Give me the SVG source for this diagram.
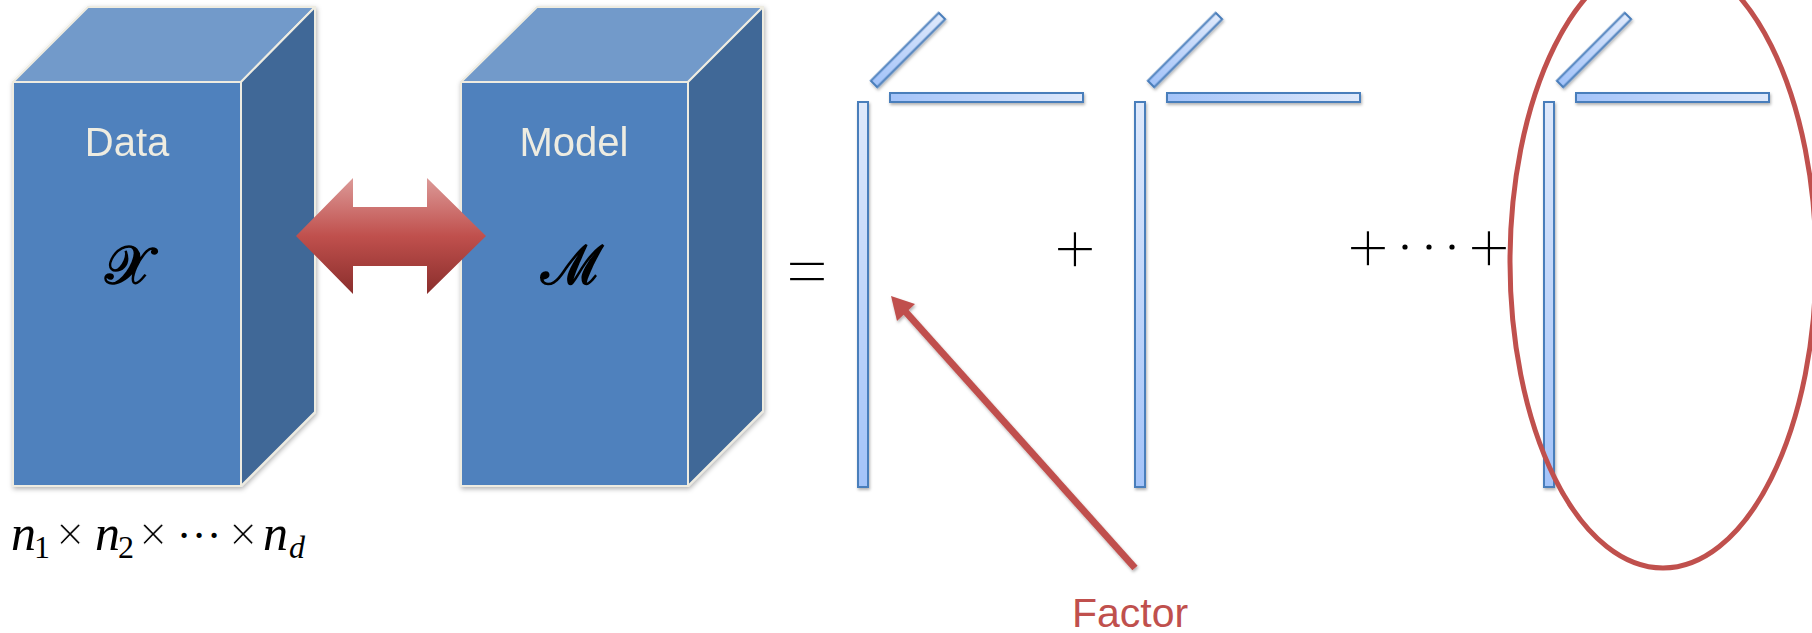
<svg xmlns="http://www.w3.org/2000/svg" width="1812" height="633" viewBox="0 0 1812 633">
  <style>
    .front { fill: #4f81bd; stroke: #eeece1; stroke-width: 2; stroke-linejoin: round; }
    .top { fill: #729aca; stroke: #eeece1; stroke-width: 2; stroke-linejoin: round; }
    .side { fill: #3f6797; stroke: #eeece1; stroke-width: 2; stroke-linejoin: round; }
    .cubelabel { font-family: "Liberation Sans", Arial, sans-serif; font-size: 40px; fill: #eeece1; text-anchor: middle; }
    .cal { font-family: "DejaVu Serif", "Liberation Serif", serif; font-size: 54px; fill: #000; stroke: #000; stroke-width: 1.6; text-anchor: middle; }
    .rod { stroke: #4a7ebb; stroke-width: 2; }
    .math { font-family: "Liberation Serif", "Times New Roman", serif; fill: #000; }
    .mi { font-style: italic; font-size: 50px; }
    .sub { font-size: 32px; }
    .op { font-size: 50px; text-anchor: middle; stroke: #fff; stroke-width: 0.8; }
    .dot { font-size: 44px; text-anchor: middle; }
    .big { font-size: 76px; text-anchor: middle; stroke: #fff; stroke-width: 1.6; }
    .factor { font-family: "Liberation Sans", Arial, sans-serif; font-size: 41px; fill: #c0504d; text-anchor: middle; }
  </style>
  <defs>
    <linearGradient id="gV" x1="0" y1="0" x2="0" y2="1">
      <stop offset="0" stop-color="#dfe9fb"/>
      <stop offset="1" stop-color="#a3c3f9"/>
    </linearGradient>
    <linearGradient id="gH" x1="0" y1="0" x2="1" y2="0">
      <stop offset="0" stop-color="#a3c3f9"/>
      <stop offset="1" stop-color="#dfe9fb"/>
    </linearGradient>
    <linearGradient id="gArrow" x1="0" y1="0" x2="0" y2="1">
      <stop offset="0" stop-color="#dc9a98"/>
      <stop offset="0.5" stop-color="#c0504d"/>
      <stop offset="1" stop-color="#8a2e2c"/>
    </linearGradient>
    <filter id="shadow" x="-20%" y="-20%" width="140%" height="140%">
      <feDropShadow dx="1" dy="2" stdDeviation="2.5" flood-color="#000" flood-opacity="0.3"/>
    </filter>
    <filter id="rshadow" x="-50%" y="-20%" width="200%" height="140%">
      <feDropShadow dx="1" dy="2" stdDeviation="1.5" flood-color="#000" flood-opacity="0.3"/>
    </filter>
    <g id="term">
      <rect class="rod" x="0" y="102" width="10" height="385" fill="url(#gV)"/>
      <rect class="rod" x="32" y="93" width="193" height="9" fill="url(#gH)"/>
      <rect class="rod" x="-48" y="-4.5" width="96" height="9" fill="url(#gH)" transform="translate(50 50) rotate(-45)"/>
    </g>
  </defs>
  <rect width="1812" height="633" fill="#ffffff"/>

  <g id="node-data" filter="url(#shadow)">
    <polygon class="top" points="13,82 88,7 315,7 241,82"/>
    <polygon class="side" points="241,82 315,7 315,412 241,486"/>
    <rect class="front" x="13" y="82" width="228" height="404"/>
    <text class="cubelabel" x="127" y="156">Data</text>
    <text class="cal" x="128" y="284">𝒳</text>
  </g>

  <g id="node-model" filter="url(#shadow)">
    <polygon class="top" points="461,82 537,7 763,7 688,82"/>
    <polygon class="side" points="688,82 763,7 763,411 688,486"/>
    <rect class="front" x="461" y="82" width="227" height="404"/>
    <text class="cubelabel" x="574" y="156">Model</text>
    <text class="cal" x="572" y="284">ℳ</text>
  </g>

  <g id="node-size-label" class="math">
    <text class="mi" x="11" y="550">n</text>
    <text class="sub" x="34" y="558">1</text>
    <text class="op" x="70" y="551">×</text>
    <text class="mi" x="95" y="550">n</text>
    <text class="sub" x="118" y="558">2</text>
    <text class="op" x="153" y="551">×</text>
    <text class="dot" x="184" y="550">·</text>
    <text class="dot" x="199" y="550">·</text>
    <text class="dot" x="214" y="550">·</text>
    <text class="op" x="243" y="551">×</text>
    <text class="mi" x="263" y="550">n</text>
    <text class="sub" x="289" y="558" font-style="italic">d</text>
  </g>

  <g id="node-equals" class="math">
    <text class="big" x="807" y="297">=</text>
  </g>

  <g id="node-term1" filter="url(#rshadow)">
    <use href="#term" transform="translate(858 0)"/>
  </g>
  <g id="node-plus1" class="math">
    <text class="big" x="1075" y="274">+</text>
  </g>
  <g id="node-term2" filter="url(#rshadow)">
    <use href="#term" transform="translate(1135 0)"/>
  </g>
  <g id="node-plus-dots" class="math">
    <text class="big" x="1368" y="273">+</text>
    <circle cx="1405" cy="247" r="2.6" fill="#000"/>
    <circle cx="1429" cy="247" r="2.6" fill="#000"/>
    <circle cx="1452" cy="247" r="2.6" fill="#000"/>
    <text class="big" x="1489" y="273">+</text>
  </g>
  <g id="node-term3" filter="url(#rshadow)">
    <use href="#term" transform="translate(1544 0)"/>
  </g>

  <g id="node-highlight">
    <ellipse cx="1663" cy="262" rx="153" ry="306" fill="none" stroke="#c0504d" stroke-width="5"/>
  </g>

  <g id="connectors">
    <polygon id="double-arrow" points="296,236 353,178 353,207 427,207 427,178 486,236 427,294 427,266 353,266 353,294" fill="url(#gArrow)"/>
    <g id="factor-arrow" filter="url(#rshadow)">
      <line x1="1135" y1="568" x2="904" y2="310" stroke="#c0504d" stroke-width="7"/>
      <polygon points="891,296 915,304 897,321" fill="#c0504d"/>
    </g>
  </g>

  <g id="node-factor-label">
    <text class="factor" x="1130" y="627">Factor</text>
  </g>
</svg>
